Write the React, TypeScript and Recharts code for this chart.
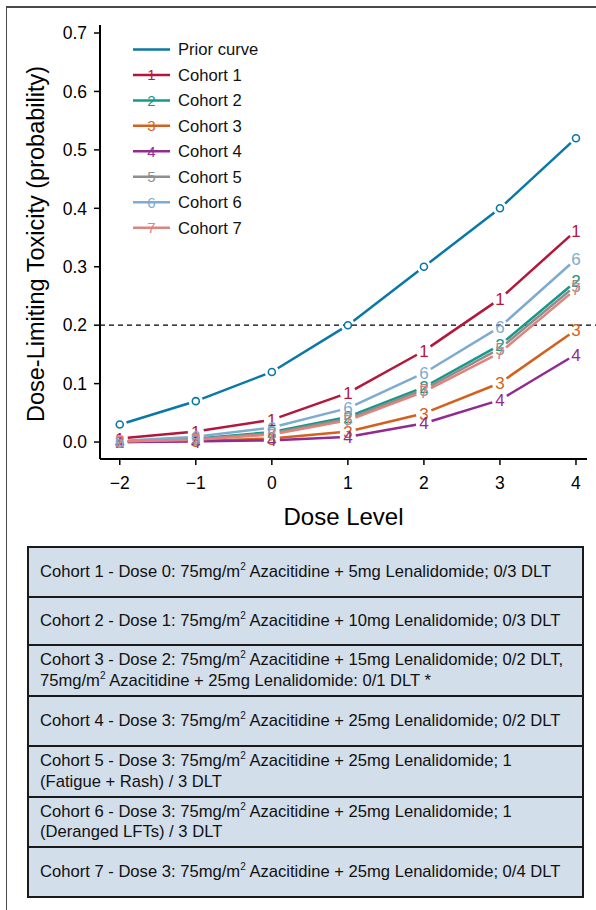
import React from 'react';
import { LineChart, Line, XAxis, YAxis, ReferenceLine, Label } from 'recharts';

// dose levels on the x axis
const doses = [-2, -1, 0, 1, 2, 3, 4];

// posterior DLT curves
const prior = [0.03, 0.07, 0.12, 0.2, 0.3, 0.4, 0.52];
const cohort1 = [0.006, 0.018, 0.038, 0.084, 0.156, 0.245, 0.362];
const cohort2 = [0.001, 0.006, 0.017, 0.043, 0.094, 0.166, 0.275];
const cohort3 = [0.0, 0.002, 0.006, 0.018, 0.049, 0.101, 0.192];
const cohort4 = [0.0, 0.001, 0.003, 0.009, 0.032, 0.072, 0.15];
const cohort5 = [0.001, 0.005, 0.015, 0.04, 0.09, 0.16, 0.268];
const cohort6 = [0.002, 0.009, 0.025, 0.058, 0.118, 0.197, 0.313];
const cohort7 = [0.001, 0.004, 0.013, 0.037, 0.086, 0.153, 0.262];

const cohorts = [cohort1, cohort2, cohort3, cohort4, cohort5, cohort6, cohort7];
const cohortNames = ['Cohort 1', 'Cohort 2', 'Cohort 3', 'Cohort 4', 'Cohort 5', 'Cohort 6', 'Cohort 7'];
const cohortColors = ['#b3173b', '#15998a', '#d2611f', '#922a8f', '#8e8e8e', '#7eabd0', '#e0837b'];
const priorColor = '#0a78a6';

const yTicks = [0, 0.1, 0.2, 0.3, 0.4, 0.5, 0.6, 0.7];
const targetTox = 0.2;

// "^2" marks the superscript in m²
const tableRows = [
  ['Cohort 1 - Dose 0: 75mg/m^2 Azacitidine + 5mg Lenalidomide; 0/3 DLT'],
  ['Cohort 2 - Dose 1: 75mg/m^2 Azacitidine + 10mg Lenalidomide; 0/3 DLT'],
  ['Cohort 3 - Dose 2: 75mg/m^2 Azacitidine + 15mg Lenalidomide; 0/2 DLT,', '75mg/m^2 Azacitidine + 25mg Lenalidomide: 0/1 DLT *'],
  ['Cohort 4 - Dose 3: 75mg/m^2 Azacitidine + 25mg Lenalidomide; 0/2 DLT'],
  ['Cohort 5 - Dose 3: 75mg/m^2 Azacitidine + 25mg Lenalidomide; 1', '(Fatigue + Rash) / 3 DLT'],
  ['Cohort 6 - Dose 3: 75mg/m^2 Azacitidine + 25mg Lenalidomide; 1', '(Deranged LFTs) / 3 DLT'],
  ['Cohort 7 - Dose 3: 75mg/m^2 Azacitidine + 25mg Lenalidomide; 0/4 DLT'],
];
const rowHeights = [50, 48, 51, 50, 51, 50, 50];

const FONT = '"Liberation Sans", Arial, Helvetica, sans-serif';

const X_DOMAIN = [-2.26, 4.145];
const Y_DOMAIN = [-0.029, 0.7137];
const W = 596;
const H = 530;
const MARGIN = { top: 25, right: 9, left: 0, bottom: 31 };
const Y_AXIS_W = 100;
const X_AXIS_H = 40;
const plotW = W - MARGIN.left - Y_AXIS_W - MARGIN.right;
const plotH = H - MARGIN.top - MARGIN.bottom - X_AXIS_H;

const chartData = doses.map((d, i) => {
  const row: any = { dose: d, prior: prior[i] };
  cohorts.forEach((c, k) => (row['c' + (k + 1)] = c[i]));
  return row;
});

// R "type = b" look: break the line around each point via a dash pattern
const gapDash = (values: number[], gap: number) => {
  const sx = plotW / (X_DOMAIN[1] - X_DOMAIN[0]);
  const sy = plotH / (Y_DOMAIN[1] - Y_DOMAIN[0]);
  const parts: number[] = [0, gap];
  for (let i = 0; i < values.length - 1; i++) {
    const dx = (doses[i + 1] - doses[i]) * sx;
    const dy = (values[i + 1] - values[i]) * sy;
    const len = Math.hypot(dx, dy);
    parts.push(Math.max(len - 2 * gap, 0), 2 * gap);
  }
  return parts.map((p) => p.toFixed(2)).join(' ');
};

const digitDot = (label: string, color: string) => (props: any) => {
  const { cx, cy, index } = props;
  return (
    <text key={`d${label}-${index}`} x={cx} y={cy} dy="0.36em" textAnchor="middle" fontSize={17} fill={color} fontFamily={FONT}>
      {label}
    </text>
  );
};

// open circle, drawn solid (the line's dash pattern must not reach it)
const circleDot = (props: any) => {
  const { cx, cy, index } = props;
  return <circle key={`p-${index}`} cx={cx} cy={cy} r={3.5} stroke={priorColor} strokeWidth={1.6} fill="#fff" />;
};

const minus = (v: number) => String(v).replace('-', '\u2212');

const renderSup = (line: string) => {
  const bits = line.split('^2');
  return bits.map((b, i) => (
    <React.Fragment key={i}>
      {b}
      {i < bits.length - 1 && <sup style={{ fontSize: 10, lineHeight: 0, verticalAlign: 'super' }}>2</sup>}
    </React.Fragment>
  ));
};

const LegendBox = () => {
  const items = [{ name: 'Prior curve', color: priorColor, digit: '' }].concat(
    cohortNames.map((n, i) => ({ name: n, color: cohortColors[i], digit: String(i + 1) }))
  );
  return (
    <svg width={300} height={250} style={{ position: 'absolute', left: 0, top: 0, pointerEvents: 'none' }}>
      {items.map((it, i) => {
        const y = 49.5 + i * 25.45;
        return (
          <g key={it.name}>
            <line x1={133} x2={170} y1={y} y2={y} stroke={it.color} strokeWidth={2.5} />
            {it.digit && (
              <text x={151.5} y={y} dy="0.36em" textAnchor="middle" fontSize={15} fill={it.color} fontFamily={FONT}>
                {it.digit}
              </text>
            )}
            <text x={178} y={y} dy="0.36em" fontSize={16.6} fill="#111" fontFamily={FONT}>
              {it.name}
            </text>
          </g>
        );
      })}
    </svg>
  );
};

export default function App() {
  return (
    <div style={{ position: 'absolute', left: 0, top: 0, width: 596, height: 910, overflow: 'hidden', background: '#fff', fontFamily: FONT }}>
      <div style={{ position: 'absolute', left: 6, top: 6, right: -10, bottom: -10, borderTop: '2px solid #4a4a4a', borderLeft: '1.5px solid #4a4a4a' }} />
      <div style={{ position: 'absolute', left: 0, top: 0 }}>
        <LineChart width={W} height={H} data={chartData} margin={MARGIN} style={{ fontFamily: FONT }}>
          <XAxis
            dataKey="dose"
            type="number"
            domain={X_DOMAIN}
            ticks={doses}
            allowDataOverflow
            height={X_AXIS_H}
            tickFormatter={minus}
            tick={{ fill: '#000', fontSize: 17.5 }}
            tickSize={6}
            tickMargin={12}
            axisLine={{ stroke: '#000', strokeWidth: 2 }}
            tickLine={{ stroke: '#000', strokeWidth: 1.5 }}
          >
            <Label
              content={(p: any) => (
                <text x={p.viewBox.x + p.viewBox.width / 2} y={525} textAnchor="middle" fontSize={24} fill="#000" fontFamily={FONT}>
                  Dose Level
                </text>
              )}
            />
          </XAxis>
          <YAxis
            type="number"
            domain={Y_DOMAIN}
            ticks={yTicks}
            allowDataOverflow
            width={Y_AXIS_W}
            tickFormatter={(v: number) => v.toFixed(1)}
            tick={{ fill: '#000', fontSize: 17.5 }}
            tickSize={6}
            tickMargin={7}
            axisLine={{ stroke: '#000', strokeWidth: 2 }}
            tickLine={{ stroke: '#000', strokeWidth: 1.5 }}
          >
            <Label
              content={(p: any) => {
                const cy = p.viewBox.y + p.viewBox.height / 2 + 2;
                return (
                  <text x={44} y={cy} transform={`rotate(-90 44 ${cy})`} textAnchor="middle" fontSize={23.5} fill="#000" fontFamily={FONT}>
                    Dose-Limiting Toxicity (probability)
                  </text>
                );
              }}
            />
          </YAxis>
          <ReferenceLine
            segment={[{ x: X_DOMAIN[0], y: targetTox }, { x: 4.4, y: targetTox }]}
            ifOverflow="visible"
            stroke="#000"
            strokeWidth={1.3}
            strokeDasharray="5 4"
          />
          <Line
            dataKey="prior"
            stroke={priorColor}
            strokeWidth={2.5}
            strokeDasharray={gapDash(prior, 7)}
            dot={circleDot}
            isAnimationActive={false}
          />
          {cohorts.map((c, k) => (
            <Line
              key={cohortNames[k]}
              dataKey={'c' + (k + 1)}
              stroke={cohortColors[k]}
              strokeWidth={2.5}
              strokeDasharray={gapDash(c, 8)}
              dot={digitDot(String(k + 1), cohortColors[k])}
              isAnimationActive={false}
            />
          ))}
        </LineChart>
      </div>
      <LegendBox />
      <div style={{ position: 'absolute', left: 27, top: 546, width: 557, boxSizing: 'border-box', borderTop: '2px solid #1a1a1a' }}>
        {tableRows.map((lines, i) => (
          <div
            key={i}
            style={{
              height: rowHeights[i],
              boxSizing: 'border-box',
              borderLeft: '2px solid #1a1a1a',
              borderRight: '2px solid #1a1a1a',
              borderBottom: '2px solid #1a1a1a',
              background: '#d3deeb',
              display: 'flex',
              flexDirection: 'column',
              justifyContent: 'center',
              paddingLeft: 11,
              fontSize: 16.6,
              lineHeight: '20.5px',
              color: '#111',
            }}
          >
            {lines.map((ln, j) => (
              <div key={j} style={{ whiteSpace: 'nowrap' }}>
                {renderSup(ln)}
              </div>
            ))}
          </div>
        ))}
      </div>
    </div>
  );
}
